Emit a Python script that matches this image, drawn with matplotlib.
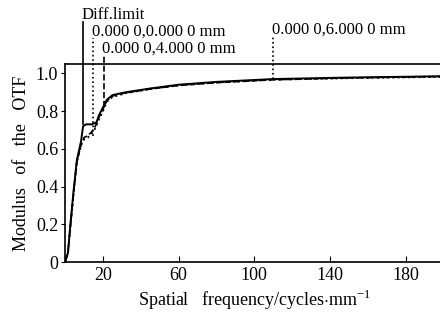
import numpy as np
import matplotlib.pyplot as plt

plt.rcParams['font.family'] = ['Liberation Serif', 'DejaVu Serif']
plt.rcParams['mathtext.fontset'] = 'custom'
plt.rcParams['mathtext.rm'] = 'Liberation Serif'

# curves
freq_diff = [0, 1.5, 2.7, 4.5, 6.2, 8.4, 9.5, 11, 14, 16.5, 18, 20, 22, 25, 32, 45, 60, 80, 100, 110, 150, 200]
otf_diff = [0, 0.05, 0.19, 0.38, 0.54, 0.64, 0.72, 0.73, 0.73, 0.74, 0.78, 0.82, 0.86, 0.885, 0.9, 0.92, 0.94, 0.955, 0.965, 0.97, 0.978, 0.985]
freq_f0 = [0, 1.5, 2.7, 4.5, 6.2, 8.4, 10, 12, 14, 16, 18, 20, 22, 25, 32, 45, 60, 80, 100, 110, 150, 200]
otf_f0 = [0, 0.05, 0.18, 0.37, 0.53, 0.62, 0.65, 0.66, 0.68, 0.71, 0.76, 0.8, 0.85, 0.875, 0.895, 0.918, 0.937, 0.952, 0.962, 0.967, 0.975, 0.982]
otf_f4 = [0, 0.05, 0.18, 0.37, 0.53, 0.62, 0.66, 0.67, 0.69, 0.72, 0.77, 0.81, 0.855, 0.88, 0.897, 0.917, 0.936, 0.951, 0.961, 0.966, 0.976, 0.984]

xticks = [20, 60, 100, 140, 180]
yticks = [0, 0.2, 0.4, 0.6, 0.8, 1.0]
ylabels = ['0', '0.2', '0.4', '0.6', '0.8', '1.0']

# marker lines: x, bottom, top, style, label
markers = [
    (9.5, 0.73, 1.275, '-', 'Diff.limit'),
    (14.8, 0.67, 1.19, ':', '0.000 0,0.000 0 mm'),
    (20.3, 0.82, 1.10, '--', '0.000 0,4.000 0 mm'),
    (110, 0.97, 1.20, ':', '0.000 0,6.000 0 mm'),
]

fig = plt.figure(figsize=(4.4, 3.12), dpi=100)
ax = fig.add_axes([0.148, 0.16, 0.86, 0.635])

ax.plot(freq_diff, otf_diff, color='black', lw=1.4, ls='-')
ax.plot(freq_f0, otf_f0, color='black', lw=1.4, ls=':')
ax.plot(freq_f0, otf_f4, color='black', lw=1.2, ls='--')

for x, y0, y1, ls, txt in markers:
    ax.plot([x, x], [y0, y1], color='black', lw=1.2, ls=ls, clip_on=False)
    ax.text(x - 0.8, y1 - 0.01, txt, fontsize=12, ha='left', va='bottom')

ax.set_xlim(0, 200)
ax.set_ylim(0, 1.05)
ax.set_xticks(xticks)
ax.set_yticks(yticks)
ax.set_yticklabels(ylabels)
ax.tick_params(axis='x', direction='in', length=4, labelsize=13)
ax.tick_params(axis='y', direction='out', length=3, labelsize=13, pad=2)
ax.spines['right'].set_visible(False)
for s in ['left', 'bottom', 'top']:
    ax.spines[s].set_linewidth(1.2)

ax.set_xlabel('Spatial   frequency/cycles$\\cdot$mm$^{-1}$', fontsize=13, labelpad=3)
ax.set_ylabel('Modulus   of   the   OTF', fontsize=13, labelpad=4)

fig.savefig('out.png', dpi=100)
